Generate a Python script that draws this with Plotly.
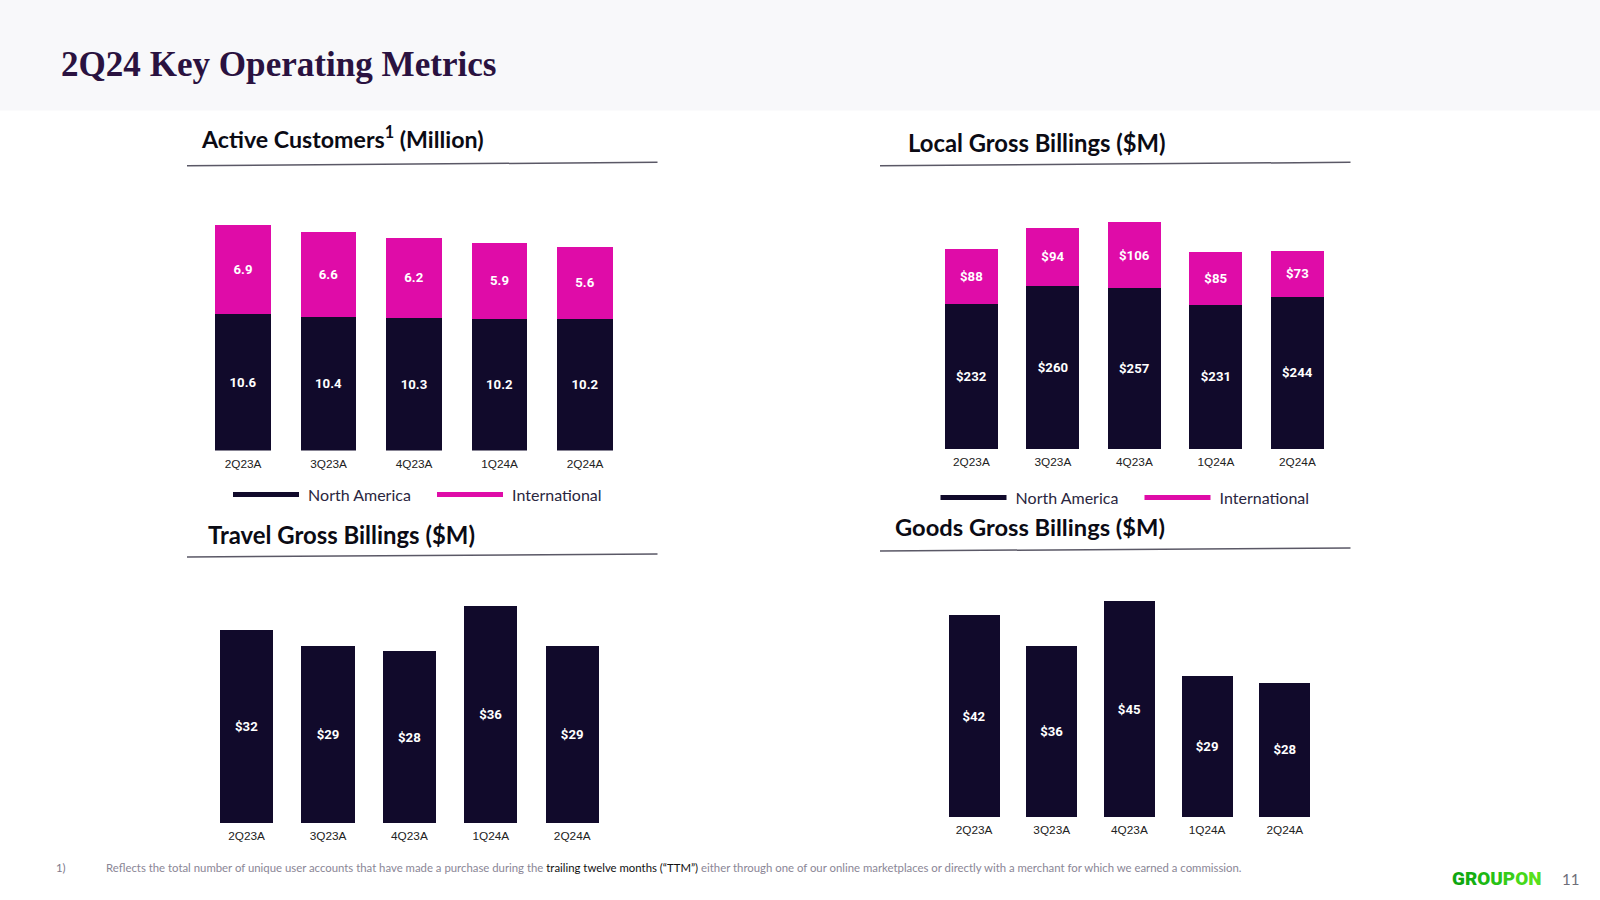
import plotly.graph_objects as go

quarters = ["2Q23A", "3Q23A", "4Q23A", "1Q24A", "2Q24A"]
customers_na = [10.6, 10.37, 10.3, 10.2, 10.2]
customers_intl = [6.9, 6.56, 6.2, 5.9, 5.6]
local_na = [232, 260.4, 257, 231, 244]
local_intl = [88, 94, 106, 85, 73.4]
travel = [32, 29.4, 28.49, 36, 29.4]
goods = [42, 35.6, 45, 29.4, 28]

DARK = "#110A2B"
MAGENTA = "#DF0CA8"
W, H = 1600, 900
LABEL_FONT = dict(family="Roboto", size=13.2, color="white", weight=700)

# panel geometry in page pixels: first centre, spacing, bar width, baseline, top, pixels per unit
panels = [
    dict(c0=243.0, step=85.5, bw=55.5, base=450.5, top=200, ppu=12.9),
    dict(c0=971.4, step=81.5, bw=53.0, base=449.0, top=200, ppu=0.625),
    dict(c0=246.6, step=81.4, bw=53.0, base=823.0, top=580, ppu=6.02),
    dict(c0=974.0, step=77.7, bw=51.0, base=817.0, top=580, ppu=4.80),
]

fig = go.Figure()
layout_axes = {}
for i, p in enumerate(panels, start=1):
    left = p["c0"] - p["step"] / 2
    right = left + p["step"] * 5
    suffix = "" if i == 1 else str(i)
    layout_axes["xaxis" + suffix] = dict(
        domain=[left / W, right / W], anchor="y" + suffix, type="category",
        range=[-0.5, 4.5], showgrid=False, showline=False, zeroline=False,
        ticks="outside", ticklen=2, tickcolor="rgba(0,0,0,0)",
        tickfont=dict(family="Liberation Sans", size=11.8, color="#222222"),
    )
    layout_axes["yaxis" + suffix] = dict(
        domain=[1 - p["base"] / H, 1 - p["top"] / H], anchor="x" + suffix,
        range=[0, (p["base"] - p["top"]) / p["ppu"]], visible=False,
    )


def add_bar(values, color, idx, template, name):
    fig.add_trace(go.Bar(
        x=quarters, y=values, name=name, marker=dict(color=color, line=dict(width=0)),
        xaxis="x" if idx == 1 else f"x{idx}", yaxis="y" if idx == 1 else f"y{idx}",
        width=panels[idx - 1]["bw"] / panels[idx - 1]["step"],
        texttemplate=template, textposition="inside", insidetextanchor="middle",
        textangle=0, insidetextfont=LABEL_FONT, showlegend=False,
    ))


add_bar(customers_na, DARK, 1, "%{y:.1f}", "North America")
add_bar(customers_intl, MAGENTA, 1, "%{y:.1f}", "International")
add_bar(local_na, DARK, 2, "$%{y:.0f}", "North America")
add_bar(local_intl, MAGENTA, 2, "$%{y:.0f}", "International")
add_bar(travel, DARK, 3, "$%{y:.0f}", "Travel")
add_bar(goods, DARK, 4, "$%{y:.0f}", "Goods")

for legend_id, axis_x, axis_y in (("legend", "x", "y"), ("legend2", "x2", "y2")):
    for name, color in (("North America", DARK), ("International", MAGENTA)):
        fig.add_trace(go.Scatter(
            x=[None], y=[None], mode="lines", name="\u00a0" + name, legend=legend_id,
            xaxis=axis_x, yaxis=axis_y, line=dict(color=color, width=5),
            hoverinfo="skip",
        ))

legend_common = dict(
    orientation="h", xanchor="left", yanchor="middle", itemwidth=66,
    entrywidth=123, entrywidthmode="pixels", bgcolor="rgba(0,0,0,0)", traceorder="normal",
    font=dict(family="Lato", size=16, color="#2A2640"), tracegroupgap=0,
)


def txt(x, y, text, size, color, family, anchor="left", weight=None):
    font = dict(size=size, color=color, family=family)
    if weight:
        font["weight"] = weight
    return dict(xref="paper", yref="paper", x=x / W, y=1 - y / H, text=text,
                showarrow=False, xanchor=anchor, yanchor="middle", font=font,
                align="left", borderpad=0)


HEAD = "Lato"
annotations = [
    txt(60, 65, "2Q24 Key Operating Metrics", 35.1, "#2A1240", "Liberation Serif", weight=700),
    txt(200, 137, "Active Customers<sup>1</sup> (Million)", 23.2, "#0B0B14", HEAD, weight=700),
    txt(907, 142.5, "Local Gross Billings ($M)", 23.8, "#0B0B14", HEAD, weight=700),
    txt(207, 534, "Travel Gross Billings ($M)", 23.9, "#0B0B14", HEAD, weight=700),
    txt(894, 526.5, "Goods Gross Billings ($M)", 23.7, "#0B0B14", HEAD, weight=700),
    txt(55, 867, "1)", 11.4, "#7E7A8C", "Lato"),
    txt(105, 867,
        "Reflects the total number of unique user accounts that have made a purchase during the "
        "<span style='color:#111111'>trailing twelve months (“TTM”)</span> either through one of our "
        "online marketplaces or directly with a merchant for which we earned a commission.",
        11.37, "#8A8696", "Lato"),
    txt(1451, 878.5,
        "".join(f"<span style='color:{c}'>{ch}</span>" for ch, c in zip(
            "GROUPON",
            ["#0EA610", "#14AE12", "#1CB814", "#28C216", "#36CC18", "#46D81A", "#58E01C"])),
        18.9, "#28C216", "Roboto", weight=900),
    txt(1561, 878.5, "11", 15, "#6E6E78", "Lato"),
]

shapes = [
    dict(type="rect", xref="paper", yref="paper", x0=0, x1=1, y0=1 - 110.5 / H, y1=1,
         fillcolor="#F8F8FA", line=dict(width=0), layer="below"),
]
for x0, y0, x1, y1 in [(187, 165.7, 657.5, 162.3), (880, 165.7, 1350.5, 162.3),
                       (187, 557, 657.5, 554), (880, 551, 1350.5, 548)]:
    shapes.append(dict(type="line", xref="paper", yref="paper", x0=x0 / W, x1=x1 / W,
                       y0=1 - y0 / H, y1=1 - y1 / H, line=dict(color="#5A5866", width=1.5)))

fig.update_layout(
    width=W, height=H, autosize=False, margin=dict(l=0, r=0, t=0, b=0),
    paper_bgcolor="white", plot_bgcolor="white", barmode="stack",
    annotations=annotations, shapes=shapes,
    legend=dict(x=228 / W, y=1 - 494.5 / H, **legend_common),
    legend2=dict(x=935.5 / W, y=1 - 497.5 / H, **legend_common),
    hovermode=False,
    **layout_axes,
)
fig.write_html("out.html", config=dict(displayModeBar=False),
               post_script="document.body.style.margin='0';document.body.style.overflow='hidden';")
